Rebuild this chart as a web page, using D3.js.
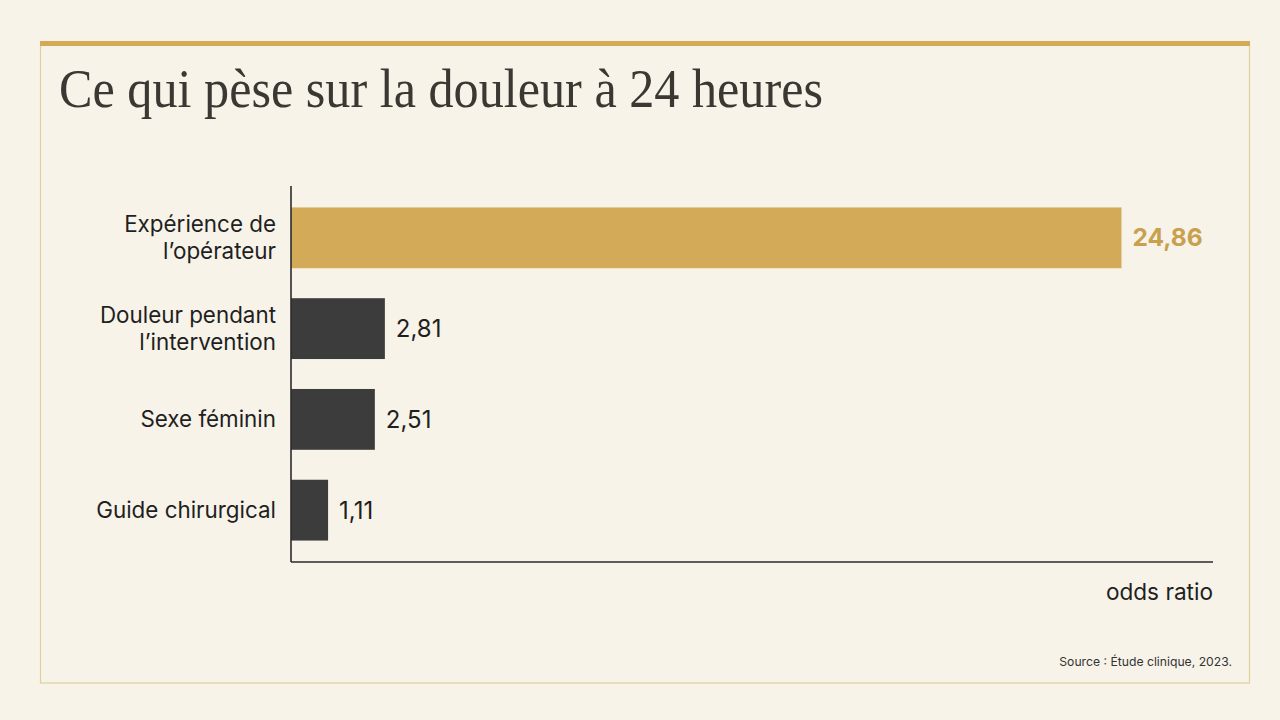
<!DOCTYPE html>
<html>
<head>
<meta charset="utf-8">
<script src="https://cdn.jsdelivr.net/npm/d3@7"></script>
<style>
  html, body { margin: 0; padding: 0; background: #f7f3e9; }
  svg { display: block; }
</style>
</head>
<body>
<div id="chart"></div>
<script>
const factors = ['Expérience de\nl’opérateur', 'Douleur pendant\nl’intervention', 'Sexe féminin', 'Guide chirurgical'];
const oddsRatios = [24.86, 2.81, 2.51, 1.11];
const highlight = [true, false, false, false];
const titleText = 'Ce qui pèse sur la douleur à 24 heures';
const axisLabel = 'odds ratio';
const sourceText = 'Source : Étude clinique, 2023.';

const W = 1280, H = 720;
const gold = '#d3aa57', dark = '#3c3c3c', ink = '#1f1f1f';

const svg = d3.select('#chart').append('svg').attr('width', W).attr('height', H);

svg.append('rect').attr('width', W).attr('height', H).attr('fill', '#f7f3e9');

// frame
svg.append('rect')
  .attr('x', 40.5).attr('y', 44).attr('width', 1209).attr('height', 639)
  .attr('fill', 'none').attr('stroke', '#e2cf9c').attr('stroke-width', 1.2);
svg.append('rect')
  .attr('x', 40).attr('y', 41).attr('width', 1210).attr('height', 5)
  .attr('fill', gold);

svg.append('text')
  .attr('x', 59).attr('y', 107)
  .attr('font-family', '"Liberation Serif", "DejaVu Serif", serif')
  .attr('font-size', 54)
  .attr('fill', '#3b3833')
  .attr('textLength', 764)
  .attr('lengthAdjust', 'spacingAndGlyphs')
  .text(titleText);

const x = d3.scaleLinear().domain([0, 27.6]).range([291, 1213]);
const y = d3.scaleBand().domain(factors).range([192, 556]).paddingInner(0.33).paddingOuter(0.17);

const font = 'Inter, "Noto Sans", sans-serif';

const g = svg.append('g');

g.selectAll('rect.bar')
  .data(factors)
  .join('rect')
  .attr('class', 'bar')
  .attr('x', x(0))
  .attr('y', d => y(d))
  .attr('width', (d, i) => x(oddsRatios[i]) - x(0))
  .attr('height', y.bandwidth())
  .attr('fill', (d, i) => highlight[i] ? gold : dark);

// value labels
g.selectAll('text.val')
  .data(factors)
  .join('text')
  .attr('class', 'val')
  .attr('x', (d, i) => x(oddsRatios[i]) + 11)
  .attr('y', d => y(d) + y.bandwidth() / 2)
  .attr('dy', '0.35em')
  .attr('font-family', font)
  .attr('font-size', (d, i) => highlight[i] ? 24.5 : 24)
  .attr('font-weight', (d, i) => highlight[i] ? 700 : 400)
  .attr('fill', (d, i) => highlight[i] ? '#c9a04e' : ink)
  .text((d, i) => d3.format('.2f')(oddsRatios[i]).replace('.', ','));

// category labels
const lab = g.selectAll('text.cat')
  .data(factors)
  .join('text')
  .attr('class', 'cat')
  .attr('text-anchor', 'end')
  .attr('font-family', font)
  .attr('font-size', 22.4)
  .attr('fill', ink);
lab.each(function(d) {
  const lines = d.split('\n');
  const cy = y(d) + y.bandwidth() / 2;
  const lh = 27;
  d3.select(this).selectAll('tspan')
    .data(lines)
    .join('tspan')
    .attr('x', 276)
    .attr('y', (l, j) => cy + (j - (lines.length - 1) / 2) * lh)
    .attr('dy', '0.35em')
    .text(l => l);
});

// axes lines
svg.append('line')
  .attr('x1', x(0)).attr('x2', x(0)).attr('y1', 186).attr('y2', 562)
  .attr('stroke', '#2b2b2b').attr('stroke-width', 1.6);
svg.append('line')
  .attr('x1', x(0)).attr('x2', x.range()[1]).attr('y1', 562).attr('y2', 562)
  .attr('stroke', '#2b2b2b').attr('stroke-width', 1.6);

svg.append('text')
  .attr('x', x.range()[1]).attr('y', 600)
  .attr('text-anchor', 'end')
  .attr('font-family', font).attr('font-size', 22.6).attr('fill', ink)
  .text(axisLabel);

svg.append('text')
  .attr('x', 1232).attr('y', 666)
  .attr('text-anchor', 'end')
  .attr('font-family', font).attr('font-size', 12.2).attr('fill', '#333')
  .text(sourceText);
</script>
</body>
</html>
